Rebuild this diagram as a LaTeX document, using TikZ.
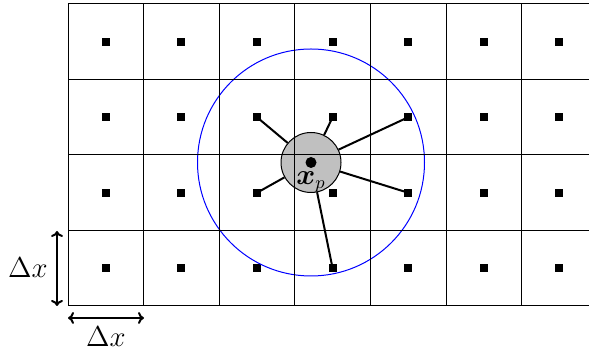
\documentclass[tikz,border=0pt]{standalone}
\usepackage{amsmath,bm}
\usetikzlibrary{arrows.meta}
\begin{document}
\begin{tikzpicture}[x=0.5pt,y=-0.5pt,
  gridline/.style={line width=0.5pt,black},
  celldot/.style={fill=black,minimum size=4pt,inner sep=0pt,draw=none,rectangle},
  link/.style={line width=1pt,black},
  dimarrow/.style={line width=1pt,{To[length=3pt,width=6pt]}-{To[length=3pt,width=6pt]}},
  lbl/.style={font=\fontsize{13.5}{16}\selectfont,inner sep=1pt}]
\useasboundingbox (0,0) rectangle (589,351);
\def\cs{75.6}
% dots
\foreach \i in {0,...,6}{
  \foreach \j in {0,...,3}{
    \node[celldot] (d\i\j) at ({68+\cs*(\i+0.5)},{4+75.5*(\j+0.5)}) {};
  }
}
% links
\coordinate (c) at (311,162.5);
\node[circle,minimum size=30pt,inner sep=0pt] (pc) at (c) {};
\foreach \a/\b in {2/1,3/1,4/1,2/2,4/2,3/3}{
  \draw[link] (pc) -- (d\a\b.center);
}
% blue circle
\node[circle,draw=blue,line width=0.5pt,minimum size=113.5pt,inner sep=0pt] (bc) at (c) {};
% gray particle
\node[circle,draw=black,line width=0.5pt,fill={rgb,255:red,192;green,192;blue,192},minimum size=30pt,inner sep=0pt] (gp) at (c) {};
% grid
\begin{scope}
\clip (0,0) rectangle (589,351);
\foreach \i in {0,...,7}{
  \draw[gridline] ({68+\cs*\i},4) -- ({68+\cs*\i},306);
}
\foreach \j in {0,...,4}{
  \draw[gridline] (68,{4+75.5*\j}) -- (600,{4+75.5*\j});
}
\end{scope}
% center dot
\node[circle,fill=black,minimum size=5.5pt,inner sep=0pt] (cd) at (c) {};
\node[lbl,anchor=north] (xp) at (311,169) {$\bm{x}_p$};
% dimensions
\coordinate (v1) at (57,231);
\coordinate (v2) at (57,306);
\coordinate (h1) at (68,318);
\coordinate (h2) at (144,318);
\draw[dimarrow] (v1) -- (v2);
\draw[dimarrow] (h1) -- (h2);
\node[lbl] (lv) at (28,268) {$\Delta x$};
\node[lbl] (lh) at (106,337) {$\Delta x$};
\end{tikzpicture}
\end{document}
